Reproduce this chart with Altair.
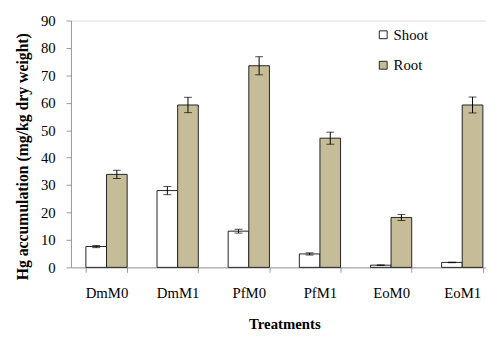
import altair as alt
import pandas as pd

treatments = ["DmM0", "DmM1", "PfM0", "PfM1", "EoM0", "EoM1"]
shoot = [7.6, 28.0, 13.2, 4.9, 0.8, 1.8]
shoot_err = [0.4, 1.5, 0.7, 0.4, 0.1, 0.1]
root = [33.9, 59.2, 73.5, 47.1, 18.2, 59.2]
root_err = [1.5, 2.8, 3.3, 2.2, 1.1, 2.9]
series = ["Shoot", "Root"]
colors = ["#ffffff", "#c6bd98"]
y_ticks = [0, 10, 20, 30, 40, 50, 60, 70, 80, 90]

rows = []
for i, t in enumerate(treatments):
    rows.append({"t": t, "s": "Shoot", "v": shoot[i], "lo": shoot[i] - shoot_err[i], "hi": shoot[i] + shoot_err[i]})
    rows.append({"t": t, "s": "Root", "v": root[i], "lo": root[i] - root_err[i], "hi": root[i] + root_err[i]})
df = pd.DataFrame(rows)

FONT = "Liberation Serif"
YTITLE = "Hg accumulation (mg/kg dry weight)"

x = alt.X("t:N", sort=treatments, title="Treatments",
          scale=alt.Scale(paddingInner=0.42, paddingOuter=0.21, range=[0, 434]),
          axis=alt.Axis(labelAngle=0, tickBand="extent", labelPadding=14, titlePadding=16,
                        tickSize=5, labelOverlap=False))
xo = alt.XOffset("s:N", sort=series, scale=alt.Scale(paddingInner=0, paddingOuter=0))
yscale = alt.Scale(domain=[0, 90])


def yaxis():
    return alt.Axis(values=y_ticks, grid=False, labelPadding=11, titlePadding=10,
                    tickSize=5, labelOverlap=False, title=YTITLE, titleFontSize=16,
                    titleY=138)


base = alt.Chart(df).encode(x=x, xOffset=xo)

bars = base.mark_bar(stroke="#222222", strokeWidth=1).encode(
    y=alt.Y("v:Q", scale=yscale, title=YTITLE, axis=yaxis()),
    fill=alt.Fill("s:N", sort=series, scale=alt.Scale(domain=series, range=colors), title=None,
                  legend=alt.Legend(orient="none", legendX=310, legendY=7, padding=0,
                                    symbolType="square", symbolSize=64,
                                    symbolStrokeColor="#222222", symbolStrokeWidth=1,
                                    labelFont=FONT, labelFontSize=15, labelColor="black",
                                    rowPadding=15, labelOffset=3)),
)

rule = base.mark_rule(color="black", strokeWidth=1).encode(
    y=alt.Y("lo:Q", scale=yscale, title=YTITLE, axis=yaxis()), y2="hi:Q")
cap_lo = base.mark_tick(color="black", size=8, thickness=1).encode(
    y=alt.Y("lo:Q", scale=yscale, title=YTITLE, axis=yaxis()))
cap_hi = base.mark_tick(color="black", size=8, thickness=1).encode(
    y=alt.Y("hi:Q", scale=yscale, title=YTITLE, axis=yaxis()))

chart = (
    alt.layer(bars, rule, cap_lo, cap_hi)
    .properties(width=422, height=251,
                autosize=alt.AutoSizeParams(type="none"),
                padding={"left": 64, "top": 10, "right": 0, "bottom": 63})
    .configure_view(stroke=None)
    .configure(background="white")
    .configure_axis(labelFont=FONT, labelFontSize=15, labelColor="black",
                    titleFont=FONT, titleFontSize=15, titleFontWeight="bold", titleColor="black",
                    domainColor="#999999", tickColor="#999999")
)

chart.save("out.html", embed_options={"renderer": "svg", "actions": False})
